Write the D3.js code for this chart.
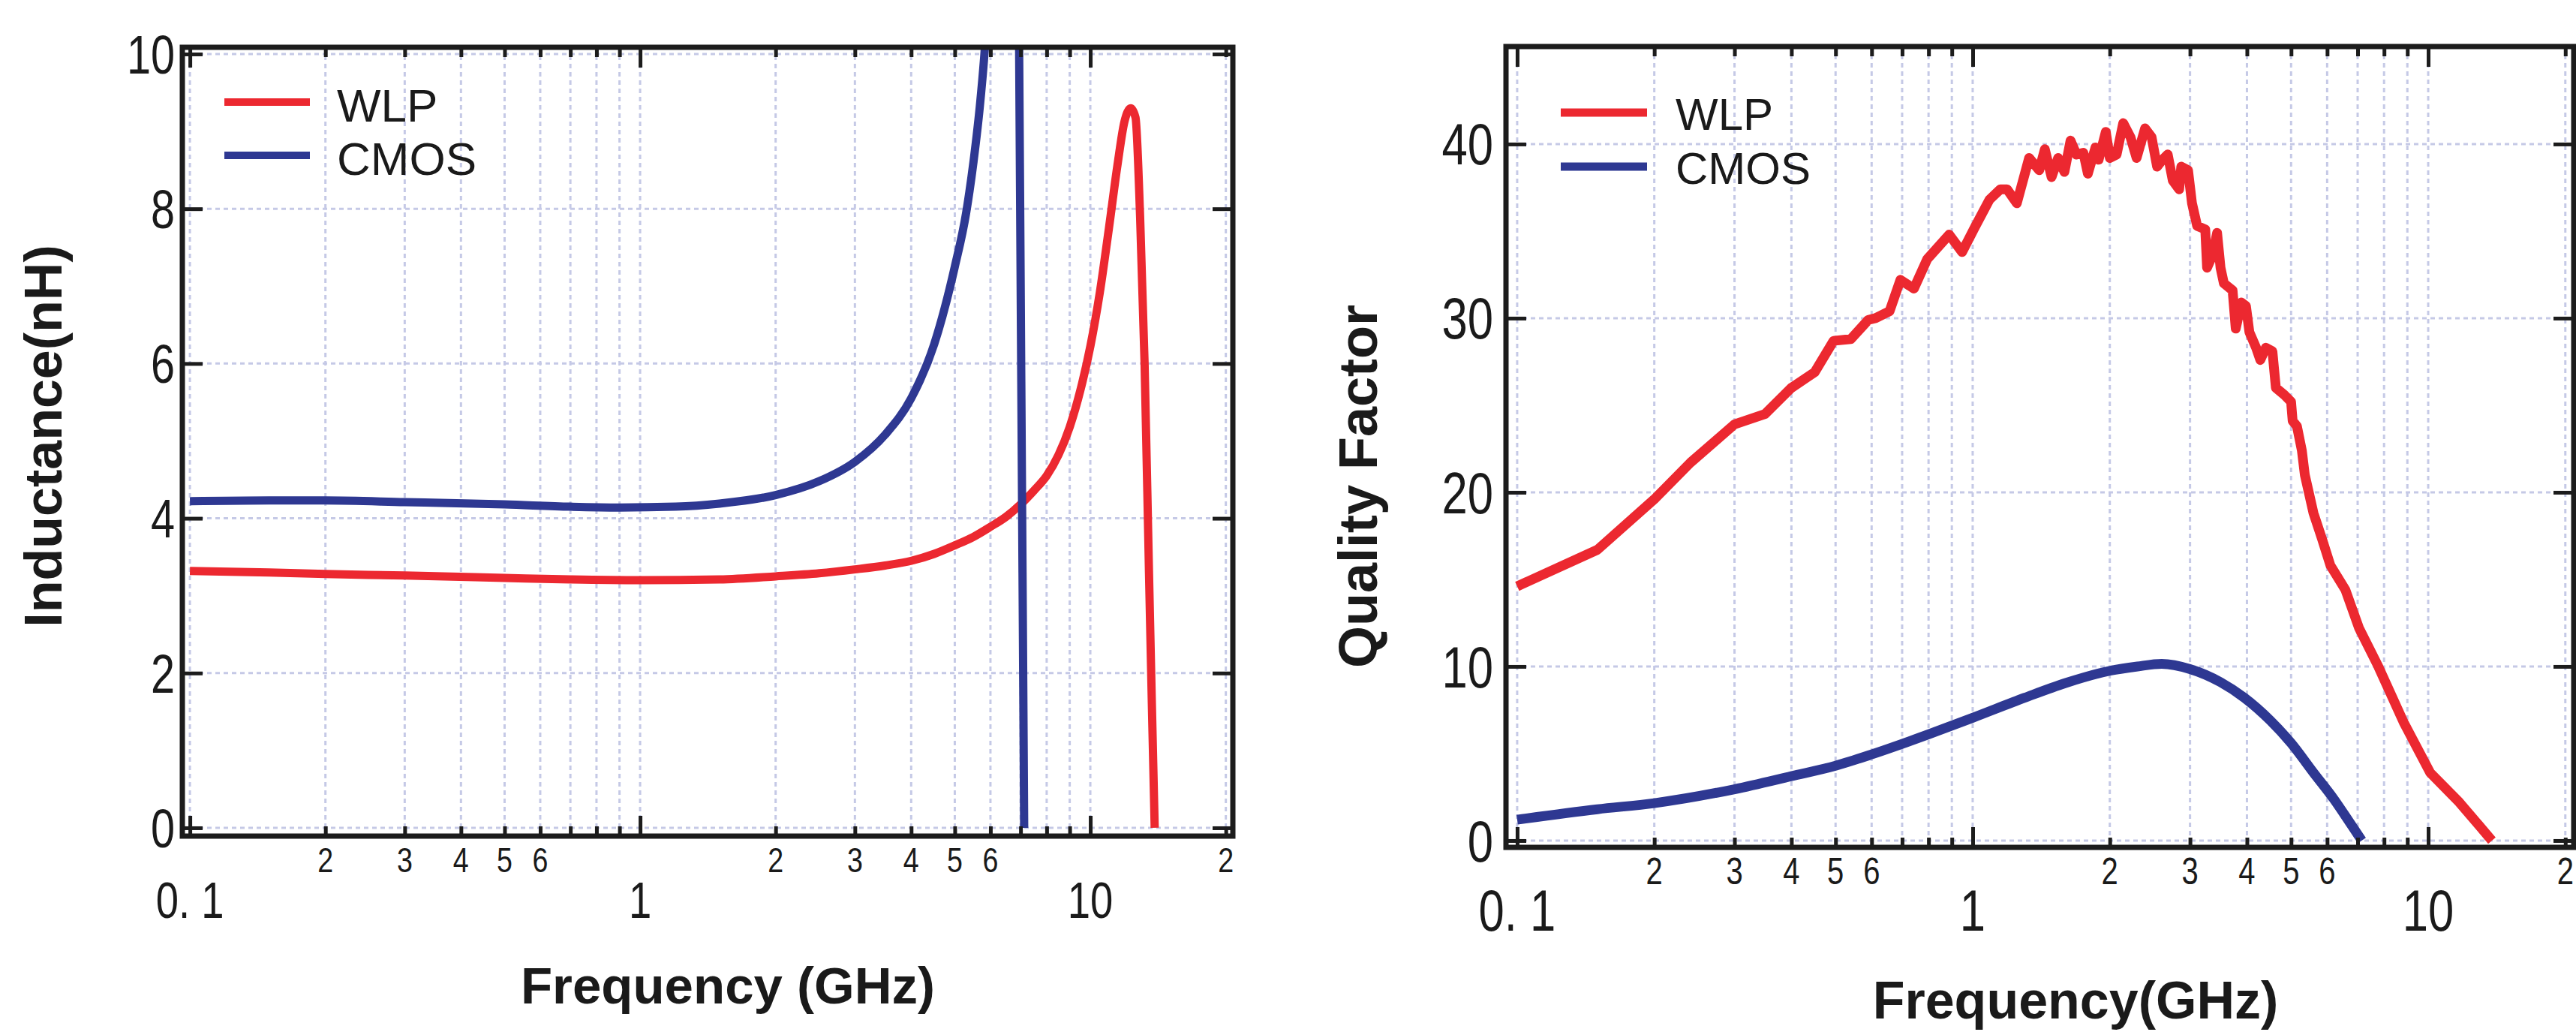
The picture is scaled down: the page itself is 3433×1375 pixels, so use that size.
<!DOCTYPE html>
<html>
<head>
<meta charset="utf-8">
<script src="https://cdn.jsdelivr.net/npm/d3@7"></script>
<style>
html, body { margin: 0; padding: 0; background: #fff; }
svg { display: block; }
.num { font-family: "Liberation Sans", Arial, sans-serif; fill: #1a1a1a; }
.title { font-family: "Liberation Sans", Arial, sans-serif; font-weight: bold; fill: #1a1a1a; }
.leg { font-family: "Liberation Sans", Arial, sans-serif; fill: #1a1a1a; }
</style>
</head>
<body>
<svg id="chart" width="3433" height="1375"></svg>
<script>
// ---- data ----
var seriesNames = ["WLP", "CMOS"];

// left: inductance (nH) vs frequency (GHz)
var indFreqWLP = [0.1, 0.15, 0.2, 0.3, 0.5, 0.7, 1, 1.5, 2, 2.5, 3, 3.5, 4, 4.5, 5, 5.5, 6, 6.5, 7, 7.5, 8, 8.5, 9, 9.5, 10, 10.5, 11, 11.5, 11.9, 12.3, 12.6, 12.9, 13.2, 13.5, 13.7, 13.9];
var indWLP     = [3.32, 3.3, 3.28, 3.26, 3.23, 3.21, 3.2, 3.21, 3.25, 3.29, 3.34, 3.39, 3.45, 3.54, 3.65, 3.76, 3.89, 4.02, 4.18, 4.36, 4.55, 4.82, 5.18, 5.65, 6.22, 6.92, 7.75, 8.58, 9.12, 9.3, 9.18, 7.9, 6.0, 3.3, 1.6, 0];

// CMOS goes off the top at resonance (null = break in the trace)
var indFreqCMOS = [0.1, 0.15, 0.2, 0.3, 0.5, 0.7, 0.9, 1.2, 1.5, 2, 2.5, 3, 3.5, 4, 4.5, 5, 5.3, 5.5, 5.7, 5.85, 5.95, 6.5, 6.94, 6.95, 7.13];
var indCMOS     = [4.22, 4.23, 4.23, 4.21, 4.18, 4.15, 4.14, 4.15, 4.19, 4.3, 4.48, 4.73, 5.08, 5.55, 6.25, 7.25, 7.95, 8.6, 9.4, 10.2, 11, null, 11, 10, 0];

// right: quality factor vs frequency (GHz)
var qFreqWLP = [0.1, 0.15, 0.2, 0.24, 0.3, 0.35, 0.4, 0.45, 0.495, 0.54, 0.59, 0.612, 0.657, 0.694, 0.743, 0.795, 0.888, 0.948, 1.01, 1.088, 1.15, 1.19, 1.25, 1.33, 1.4, 1.44, 1.49, 1.54, 1.59, 1.64, 1.69, 1.75, 1.79, 1.86, 1.89, 1.96, 2.0, 2.07, 2.14, 2.22, 2.29, 2.39, 2.47, 2.54, 2.61, 2.68, 2.75, 2.84, 2.87, 2.97, 3.03, 3.11, 3.24, 3.27, 3.36, 3.44, 3.5, 3.56, 3.72, 3.78, 3.89, 3.98, 4.05, 4.19, 4.28, 4.4, 4.55, 4.63, 4.83, 5.0, 5.04, 5.15, 5.28, 5.36, 5.6, 5.85, 6.1, 6.58, 7.05, 7.77, 8.83, 10.1, 11.7, 12.9, 13.8];
var qWLP     = [14.6, 16.7, 19.6, 21.7, 23.9, 24.5, 26.0, 26.9, 28.7, 28.8, 29.9, 30.0, 30.4, 32.2, 31.7, 33.4, 34.8, 33.8, 35.2, 36.8, 37.4, 37.4, 36.6, 39.2, 38.5, 39.7, 38.1, 39.2, 38.4, 40.2, 39.4, 39.5, 38.3, 39.8, 39.1, 40.7, 39.2, 39.4, 41.2, 40.4, 39.2, 40.9, 40.4, 38.7, 39.1, 39.4, 37.9, 37.4, 38.7, 38.5, 36.6, 35.3, 35.1, 32.9, 33.6, 34.9, 32.9, 32.0, 31.6, 29.4, 30.9, 30.7, 29.2, 28.3, 27.6, 28.3, 28.1, 26.0, 25.6, 25.2, 24.1, 23.8, 22.4, 21.0, 18.8, 17.3, 15.8, 14.4, 12.2, 10.0, 6.8, 3.9, 2.2, 0.9, 0];

var qFreqCMOS = [0.1, 0.15, 0.2, 0.3, 0.4, 0.5, 0.6, 0.8, 1.0, 1.3, 1.6, 2.0, 2.3, 2.6, 3.0, 3.5, 3.95, 4.5, 5.0, 5.6, 6.2, 6.8, 7.15];
var qCMOS     = [1.2, 1.8, 2.15, 2.95, 3.7, 4.3, 4.95, 6.1, 7.05, 8.2, 9.05, 9.75, 10.0, 10.15, 9.85, 9.1, 8.2, 6.9, 5.6, 3.9, 2.4, 0.85, 0];

// axis ticks
var majorTicks = [0.1, 1, 10];
var majorLabels = ["0. 1", "1", "10"];
var minorTicks = [0.2, 0.3, 0.4, 0.5, 0.6, 0.7, 0.8, 0.9, 2, 3, 4, 5, 6, 7, 8, 9, 20];
var minorLabelTicks = [0.2, 0.3, 0.4, 0.5, 0.6, 2, 3, 4, 5, 6, 20];
var minorLabels = ["2", "3", "4", "5", "6", "2", "3", "4", "5", "6", "2"];
var indYTicks = [0, 2, 4, 6, 8, 10];
var qYTicks = [0, 10, 20, 30, 40];

// ---- layout ----
var RED = "#ec2830", BLUE = "#2e3892", INK = "#1c1c1c", GRID = "#c5c9e6";
var NARROW = 0.8;   // horizontal squeeze for the condensed tick numbers

var panels = [
  {
    id: "ind",
    x0: 243, x1: 1643, y0: 63, y1: 1114,
    xDomain: [0.0962, 20.73], yDomain: [-0.107, 10.087],
    yTicks: indYTicks, yLabelX: 233, yFont: 72,
    minorFont: 47, minorBase: 1162, majorFont: 68, majorBase: 1223,
    lw: 11,
    series: [
      { f: indFreqWLP, v: indWLP, color: RED, smooth: true },
      { f: indFreqCMOS, v: indCMOS, color: BLUE, smooth: true }
    ],
    legend: { lx0: 299, lx1: 413, ly: 136, dy: 71, tx: 449, tdy: 26, fs: 62, lw: 10 },
    xTitle: { text: "Frequency (GHz)", x: 970, y: 1337, fs: 69 },
    yTitle: { text: "Inductance(nH)", x: 82, y: 581, fs: 70 }
  },
  {
    id: "q",
    x0: 2007, x1: 3430, y0: 62, y1: 1129,
    xDomain: [0.0945, 20.87], yDomain: [-0.39, 45.6],
    yTicks: qYTicks, yLabelX: 1990, yFont: 77,
    minorFont: 50, minorBase: 1178, majorFont: 77, majorBase: 1240,
    lw: 13,
    series: [
      { f: qFreqWLP, v: qWLP, color: RED, smooth: false },
      { f: qFreqCMOS, v: qCMOS, color: BLUE, smooth: true }
    ],
    legend: { lx0: 2080, lx1: 2195, ly: 150, dy: 72, tx: 2233, tdy: 23, fs: 60, lw: 11 },
    xTitle: { text: "Frequency(GHz)", x: 2766, y: 1357, fs: 70 },
    yTitle: { text: "Quality Factor", x: 1835, y: 648, fs: 72 }
  }
];

var svg = d3.select("#chart");
var defs = svg.append("defs");

function styleAxis(sel) {
  sel.select(".domain").remove();
  sel.selectAll("line").attr("stroke", INK).attr("stroke-width", 5);
}

function drawPanel(p) {
  var x = d3.scaleLog().domain(p.xDomain).range([p.x0, p.x1]);
  var y = d3.scaleLinear().domain(p.yDomain).range([p.y1, p.y0]);
  var g = svg.append("g").attr("class", "panel-" + p.id);

  // dashed grid
  var grid = g.append("g");
  grid.selectAll("line.v")
    .data(majorTicks.concat(minorTicks))
    .enter().append("line")
    .attr("class", "v")
    .attr("x1", x).attr("x2", x)
    .attr("y1", p.y0).attr("y2", p.y1);
  grid.selectAll("line.h")
    .data(p.yTicks)
    .enter().append("line")
    .attr("class", "h")
    .attr("x1", p.x0).attr("x2", p.x1)
    .attr("y1", y).attr("y2", y);
  grid.selectAll("line")
    .attr("stroke", GRID)
    .attr("stroke-width", 3)
    .attr("stroke-dasharray", "6,5");

  // curves
  defs.append("clipPath").attr("id", "clip-" + p.id)
    .append("rect")
    .attr("x", p.x0).attr("y", p.y0)
    .attr("width", p.x1 - p.x0).attr("height", p.y1 - p.y0);

  var plot = g.append("g").attr("clip-path", "url(#clip-" + p.id + ")");
  p.series.forEach(function(s) {
    var pts = s.f.map(function(f, i) { return [f, s.v[i]]; });
    var line = d3.line()
      .defined(function(d) { return d[1] != null; })
      .x(function(d) { return x(d[0]); })
      .y(function(d) { return y(d[1]); })
      .curve(s.smooth ? d3.curveMonotoneX : d3.curveLinear);
    plot.append("path")
      .datum(pts)
      .attr("d", line)
      .attr("fill", "none")
      .attr("stroke", s.color)
      .attr("stroke-width", p.lw)
      .attr("stroke-linejoin", "round");
  });

  // ticks pointing inwards on all four sides
  var h = p.y1 - p.y0, w = p.x1 - p.x0;
  g.append("g").attr("transform", "translate(0," + p.y1 + ")")
    .call(d3.axisBottom(x).tickValues(minorTicks).tickSize(-13).tickFormat(""))
    .call(styleAxis);
  g.append("g").attr("transform", "translate(0," + p.y1 + ")")
    .call(d3.axisBottom(x).tickValues(majorTicks).tickSize(-27).tickFormat(""))
    .call(styleAxis);
  g.append("g").attr("transform", "translate(0," + p.y0 + ")")
    .call(d3.axisTop(x).tickValues(minorTicks).tickSize(-13).tickFormat(""))
    .call(styleAxis);
  g.append("g").attr("transform", "translate(0," + p.y0 + ")")
    .call(d3.axisTop(x).tickValues(majorTicks).tickSize(-27).tickFormat(""))
    .call(styleAxis);
  g.append("g").attr("transform", "translate(" + p.x0 + ",0)")
    .call(d3.axisLeft(y).tickValues(p.yTicks).tickSize(-27).tickFormat(""))
    .call(styleAxis);
  g.append("g").attr("transform", "translate(" + p.x1 + ",0)")
    .call(d3.axisRight(y).tickValues(p.yTicks).tickSize(-27).tickFormat(""))
    .call(styleAxis);

  // frame
  g.append("rect")
    .attr("x", p.x0).attr("y", p.y0)
    .attr("width", w).attr("height", h)
    .attr("fill", "none")
    .attr("stroke", INK)
    .attr("stroke-width", 7);

  // tick labels (squeezed horizontally to look condensed)
  g.selectAll("text.ylab")
    .data(p.yTicks)
    .enter().append("text")
    .attr("class", "num ylab")
    .attr("transform", function(d) {
      return "translate(" + p.yLabelX + "," + (y(d) + 0.358 * p.yFont) + ") scale(" + NARROW + ",1)";
    })
    .attr("text-anchor", "end")
    .style("font-size", p.yFont + "px")
    .text(function(d) { return d; });

  g.selectAll("text.xminor")
    .data(minorLabelTicks)
    .enter().append("text")
    .attr("class", "num xminor")
    .attr("transform", function(d) {
      return "translate(" + x(d) + "," + p.minorBase + ") scale(" + NARROW + ",1)";
    })
    .attr("text-anchor", "middle")
    .style("font-size", p.minorFont + "px")
    .text(function(d, i) { return minorLabels[i]; });

  g.selectAll("text.xmajor")
    .data(majorTicks)
    .enter().append("text")
    .attr("class", "num xmajor")
    .attr("transform", function(d) {
      return "translate(" + x(d) + "," + p.majorBase + ") scale(" + NARROW + ",1)";
    })
    .attr("text-anchor", "middle")
    .style("font-size", p.majorFont + "px")
    .text(function(d, i) { return majorLabels[i]; });

  // axis titles
  g.append("text")
    .attr("class", "title")
    .attr("x", p.xTitle.x).attr("y", p.xTitle.y)
    .attr("text-anchor", "middle")
    .style("font-size", p.xTitle.fs + "px")
    .text(p.xTitle.text);
  g.append("text")
    .attr("class", "title")
    .attr("transform", "translate(" + p.yTitle.x + "," + p.yTitle.y + ") rotate(-90)")
    .attr("text-anchor", "middle")
    .style("font-size", p.yTitle.fs + "px")
    .text(p.yTitle.text);

  // legend
  var L = p.legend;
  var leg = g.append("g").selectAll("g")
    .data(p.series)
    .enter().append("g");
  leg.append("line")
    .attr("x1", L.lx0).attr("x2", L.lx1)
    .attr("y1", function(d, i) { return L.ly + i * L.dy; })
    .attr("y2", function(d, i) { return L.ly + i * L.dy; })
    .attr("stroke", function(d) { return d.color; })
    .attr("stroke-width", L.lw);
  leg.append("text")
    .attr("class", "leg")
    .attr("x", L.tx)
    .attr("y", function(d, i) { return L.ly + i * L.dy + L.tdy; })
    .style("font-size", L.fs + "px")
    .text(function(d, i) { return seriesNames[i]; });
}

panels.forEach(drawPanel);
</script>
</body>
</html>
